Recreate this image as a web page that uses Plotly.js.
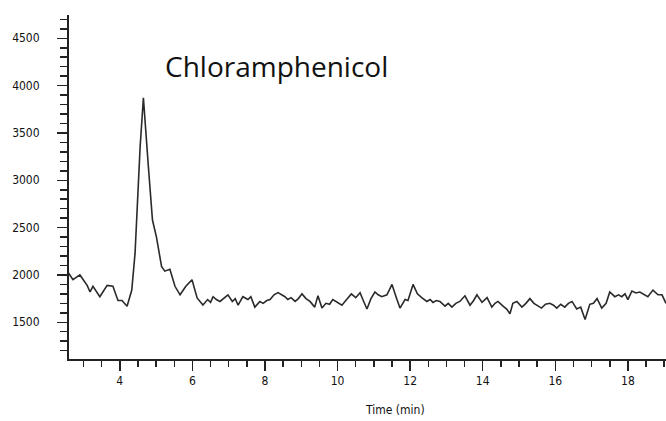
<!DOCTYPE html>
<html>
<head>
<meta charset="utf-8">
<script src="https://cdn.plot.ly/plotly-3.0.1.min.js"></script>
<style>html,body{margin:0;padding:0;background:#fff;}#chart{width:666px;height:421px;}</style>
</head>
<body>
<div id="chart"></div>
<script>
// Retention time (min)
var timeMin = [
  2.57, 2.71, 2.90, 3.10, 3.18, 3.26, 3.45, 3.65, 3.81, 3.95,
  4.06, 4.20, 4.33, 4.42, 4.56, 4.65, 4.78, 4.90, 5.01, 5.15,
  5.24, 5.38, 5.52, 5.66, 5.82, 5.99, 6.13, 6.21, 6.29, 6.42,
  6.50, 6.57, 6.66, 6.76, 6.87, 6.98, 7.10, 7.18, 7.26, 7.39,
  7.53, 7.61, 7.72, 7.86, 7.95, 8.05, 8.14, 8.25, 8.36, 8.46,
  8.55, 8.63, 8.72, 8.83, 8.92, 9.02, 9.13, 9.24, 9.37, 9.46,
  9.57, 9.68, 9.78, 9.87, 10.00, 10.12, 10.25, 10.38, 10.50, 10.62,
  10.72, 10.81, 10.92, 11.03, 11.12, 11.22, 11.36, 11.50, 11.62, 11.72,
  11.86, 11.94, 12.08, 12.20, 12.32, 12.46, 12.55, 12.63, 12.72, 12.82,
  12.96, 13.05, 13.15, 13.26, 13.37, 13.51, 13.65, 13.75, 13.84, 13.98,
  14.12, 14.25, 14.34, 14.42, 14.56, 14.66, 14.75, 14.83, 14.94, 15.08,
  15.19, 15.30, 15.41, 15.52, 15.62, 15.73, 15.85, 15.95, 16.04, 16.15,
  16.26, 16.36, 16.46, 16.59, 16.70, 16.82, 16.95, 17.05, 17.15, 17.28,
  17.40, 17.50, 17.64, 17.74, 17.83, 17.92, 18.00, 18.11, 18.22, 18.33,
  18.41, 18.55, 18.69, 18.83, 18.94, 19.05
];
// Detector response (counts)
var intensity = [
  2030, 1950, 2000, 1890, 1820, 1880, 1770, 1890, 1880, 1730,
  1730, 1670, 1840, 2230, 3355, 3870, 3180, 2580, 2400, 2090,
  2040, 2060, 1880, 1790, 1880, 1950, 1757, 1720, 1683, 1740,
  1710, 1770, 1740, 1720, 1760, 1790, 1720, 1750, 1680, 1770,
  1740, 1770, 1660, 1720, 1700, 1730, 1740, 1790, 1813, 1790,
  1770, 1740, 1760, 1720, 1750, 1800, 1750, 1720, 1660, 1780,
  1650, 1700, 1690, 1740, 1710, 1680, 1740, 1800, 1760, 1813,
  1720, 1640, 1750, 1820, 1790, 1770, 1790, 1900, 1760, 1650,
  1740, 1730, 1900, 1800, 1760, 1720, 1740, 1710, 1730, 1720,
  1670, 1700, 1660, 1700, 1720, 1780, 1680, 1730, 1790, 1710,
  1760, 1660, 1700, 1720, 1670, 1640, 1590, 1700, 1720, 1660,
  1700, 1750, 1700, 1670, 1650, 1690, 1700, 1680, 1650, 1690,
  1660, 1700, 1720, 1640, 1660, 1530, 1690, 1700, 1750, 1650,
  1700, 1820, 1770, 1790, 1770, 1800, 1740, 1830, 1810, 1820,
  1800, 1770, 1840, 1790, 1790, 1700
];
var yTicks = [1500, 2000, 2500, 3000, 3500, 4000, 4500];
var xTicks = [4, 6, 8, 10, 12, 14, 16, 18];
var peakLabel = 'Chloramphenicol';
var xLabel = 'Time (min)';

var narrow = '"Liberation Sans Narrow", "DejaVu Sans Condensed", "Arial Narrow", sans-serif';
var axisCol = '#222';
var yRange = [1112, 4746];

var trace = {
  x: timeMin, y: intensity, type: 'scatter', mode: 'lines',
  line: {color: '#2a2a2a', width: 1.6},
  hoverinfo: 'skip', yaxis: 'y2'
};
// same series bound to the label axis (kept invisible) so that axis is drawn
var labelTrace = {
  x: timeMin, y: intensity, type: 'scatter', mode: 'lines',
  line: {color: 'rgba(0,0,0,0)', width: 0},
  hoverinfo: 'skip', yaxis: 'y'
};

var layout = {
  width: 666, height: 421,
  margin: {l: 69, r: 0, t: 15, b: 62},
  paper_bgcolor: '#fff', plot_bgcolor: '#fff',
  showlegend: false,
  xaxis: {
    range: [2.6, 19.05],
    tickmode: 'array', tickvals: xTicks, ticktext: xTicks.map(String),
    ticks: 'outside', ticklen: 10, tickwidth: 1.5, tickcolor: axisCol,
    minor: {dtick: 0.5, tick0: 0, ticks: 'outside', ticklen: 6, tickwidth: 1.5, tickcolor: axisCol},
    showline: true, linecolor: axisCol, linewidth: 2,
    showgrid: false, zeroline: false,
    tickfont: {family: narrow, size: 12, color: '#111'}
  },
  // label axis: long transparent major ticks push the labels away from the line
  yaxis: {
    range: yRange,
    tickmode: 'array', tickvals: yTicks, ticktext: yTicks.map(String),
    ticks: 'outside', ticklen: 25, tickwidth: 1, tickcolor: 'rgba(0,0,0,0)',
    minor: {dtick: 100, tick0: 0, ticks: 'outside', ticklen: 7, tickwidth: 1.5, tickcolor: axisCol},
    showline: true, linecolor: axisCol, linewidth: 2,
    showgrid: false, zeroline: false,
    tickfont: {family: narrow, size: 12, color: '#111'}
  },
  // tick axis: visible long major ticks, no labels
  yaxis2: {
    range: yRange, overlaying: 'y', side: 'left',
    tickmode: 'array', tickvals: yTicks,
    ticks: 'outside', ticklen: 11, tickwidth: 1.5, tickcolor: axisCol,
    showticklabels: false, showline: false,
    showgrid: false, zeroline: false
  },
  annotations: [
    {text: peakLabel, xref: 'paper', yref: 'paper', x: 0.158, y: 0.853,
     xanchor: 'left', yanchor: 'middle', showarrow: false,
     font: {family: '"Open Sans", sans-serif', size: 28, color: '#111'}},
    {text: xLabel, xref: 'paper', yref: 'paper', x: 0.546, y: -0.148,
     xanchor: 'center', yanchor: 'middle', showarrow: false,
     font: {family: narrow, size: 12, color: '#111'}}
  ]
};

Plotly.newPlot('chart', [labelTrace, trace], layout, {displayModeBar: false, staticPlot: true});
</script>
</body>
</html>
